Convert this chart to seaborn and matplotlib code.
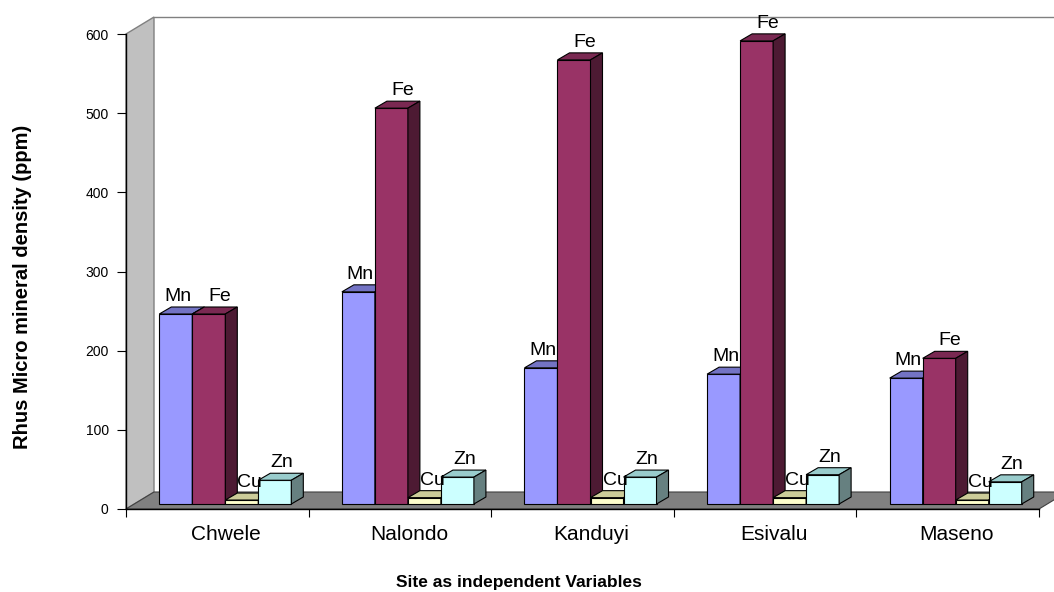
import matplotlib
matplotlib.use("Agg")
import matplotlib.pyplot as plt
from matplotlib.patches import Polygon
from matplotlib.transforms import IdentityTransform, ScaledTranslation, offset_copy
import numpy as np
import pandas as pd
import seaborn as sns

# data
sites = ["Chwele", "Nalondo", "Kanduyi", "Esivalu", "Maseno"]
minerals = ["Mn", "Fe", "Cu", "Zn"]
mn = [240, 268, 172, 164, 159]
fe = [240, 500, 561, 585, 184]
cu = [5, 8, 8, 8, 5]
zn = [30, 34, 34, 37, 28]
yticks = [0, 100, 200, 300, 400, 500, 600]

# excel-ish 3d colours: front / top / side
front = ["#9999FF", "#993366", "#FFFFCC", "#CCFFFF"]
top = ["#7373C4", "#7A2952", "#CCCC99", "#99CCCC"]
side = ["#4D4D80", "#4D1A33", "#808066", "#668080"]
# small horizontal nudge of the data labels (px), like excel places them
label_dx = [-10, -1, -4, -5]

df = pd.DataFrame({
    "site": sites * len(minerals),
    "mineral": [m for m in minerals for _ in sites],
    "value": mn + fe + cu + zn,
})

sns.set_theme(style="white")
plt.rcParams["font.family"] = ["Liberation Sans", "DejaVu Sans"]
plt.rcParams["text.color"] = "black"
plt.rcParams["xtick.color"] = "black"
plt.rcParams["ytick.color"] = "black"

fig = plt.figure(figsize=(10.54, 5.92), dpi=100)
ax = fig.add_axes([126 / 1054, 83 / 592, 913 / 1054, 475 / 592])
ax.patch.set_visible(False)

sns.barplot(data=df, x="site", y="value", hue="mineral", order=sites,
            hue_order=minerals, palette=front, saturation=1, width=0.723,
            gap=0, edgecolor="black", linewidth=0.8, legend=False, ax=ax)
ax.set_xlim(-0.5, len(sites) - 0.5)
ax.set_ylim(0, 600)
bars = sorted(ax.patches, key=lambda p: p.get_x())

# depth offsets in pixels
WALL = np.array([28, 17])
BOFF = np.array([8, 5])
BDEP = np.array([12, 7])
d = lambda x, y: ax.transData.transform((x, y))
ident = IdentityTransform()

x0, x1 = -0.5, len(sites) - 0.5
# side wall, back wall edge, floor
ax.add_patch(Polygon([d(x0, 0), d(x0, 600), d(x0, 600) + WALL, d(x0, 0) + WALL],
                     transform=ident, facecolor="#C0C0C0", edgecolor="#808080",
                     lw=1, zorder=0.5, clip_on=False))
p1, p2 = d(x0, 600) + WALL, d(x1, 600) + WALL
ax.add_line(plt.Line2D([p1[0], p2[0]], [p1[1], p2[1]], transform=ident,
                       color="#808080", lw=1, zorder=0.5, clip_on=False))
ax.add_patch(Polygon([d(x0, 0), d(x1, 0), d(x1, 0) + WALL, d(x0, 0) + WALL],
                     transform=ident, facecolor="#808080", edgecolor="#404040",
                     lw=0.8, zorder=1, clip_on=False))

# 3d faces on every bar
shift = offset_copy(ax.transData, fig=fig, x=BOFF[0], y=BOFF[1], units="dots")
for k, p in enumerate(bars):
    i = k % len(minerals)
    z = 3 + 0.1 * i
    bx, bw, bh = p.get_x(), p.get_width(), p.get_height()
    p.set_transform(shift)
    p.set_clip_on(False)
    p.set_zorder(z)
    a = d(bx, bh) + BOFF
    b = d(bx + bw, bh) + BOFF
    b0 = d(bx + bw, 0) + BOFF
    ax.add_patch(Polygon([a, b, b + BDEP, a + BDEP], transform=ident,
                         facecolor=top[i], edgecolor="black", lw=0.8,
                         zorder=z, clip_on=False))
    ax.add_patch(Polygon([b0, b, b + BDEP, b0 + BDEP], transform=ident,
                         facecolor=side[i], edgecolor="black", lw=0.8,
                         zorder=z, clip_on=False))
    c = (a + b) / 2 + BDEP
    ax.text(c[0] + label_dx[i], c[1] + 2, minerals[i], transform=ident,
            ha="center", va="bottom", fontsize=14, color="black", zorder=10)

# axes, ticks
for s in ["top", "right"]:
    ax.spines[s].set_visible(False)
for s in ["left", "bottom"]:
    ax.spines[s].set_color("black")
    ax.spines[s].set_linewidth(1)
    ax.spines[s].set_zorder(1.5)
ax.set_yticks(yticks)
ax.set_xticks(range(len(sites)))
ax.set_xticks(np.arange(x0, x1 + 0.01, 1), minor=True)
ax.tick_params(axis="y", length=6.5, width=0.8, color="black", direction="out",
               labelsize=10, pad=6, left=True, labelcolor="black")
ax.tick_params(axis="x", which="major", length=0, labelsize=15, pad=11.5,
               labelcolor="black")
ax.tick_params(axis="x", which="minor", length=6, width=0.8, color="black",
               direction="out", bottom=True)
for lbl in ax.get_xticklabels():
    lbl.set_transform(lbl.get_transform() + ScaledTranslation(0.09, 0, fig.dpi_scale_trans))
ax.set_xlabel("")
ax.set_ylabel("")

fig.text(519 / 1054, 1 - 583 / 592, "Site as independent Variables", ha="center",
         va="center", fontsize=12.5, fontweight="bold", color="black")
fig.text(23 / 1054, 1 - 287 / 592, "Rhus Micro mineral density (ppm)", ha="center",
         va="center", rotation=90, fontsize=14.5, fontweight="bold", color="black")

fig.savefig("out.png", dpi=100)
